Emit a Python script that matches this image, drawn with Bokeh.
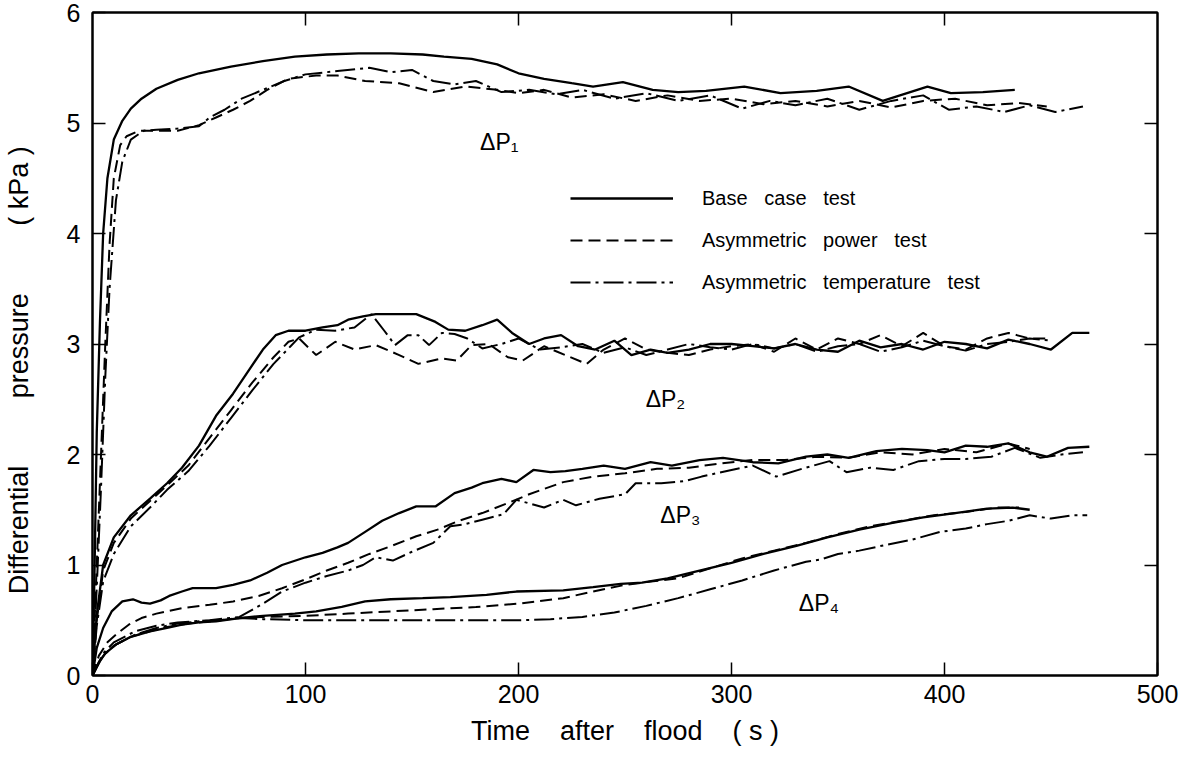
from bokeh.plotting import figure
from bokeh.models import (LinearAxis, FixedTicker, Legend, LegendItem, Label)
from bokeh.embed import file_html
from bokeh.resources import INLINE

# ---------------- data (time s, differential pressure kPa) ----------------
# dP1
p1_base_t = [0, 1, 2, 3.5, 5, 7, 10, 14, 18, 23, 30, 40, 50, 65, 80, 95, 110, 125, 140, 155, 165, 178,
             190, 200, 212, 225, 235, 249, 263, 275, 288, 306, 323, 340, 355, 371, 392, 403, 418, 433]
p1_base_v = [0, 1.0, 2.2, 3.2, 4.0, 4.5, 4.85, 5.02, 5.13, 5.22, 5.31, 5.39, 5.45, 5.51, 5.56, 5.6, 5.62,
             5.63, 5.63, 5.62, 5.6, 5.58, 5.53, 5.45, 5.4, 5.36, 5.33, 5.37, 5.3, 5.28, 5.29, 5.33, 5.27,
             5.29, 5.33, 5.2, 5.33, 5.27, 5.28, 5.3]
p1_pow_t = [0, 2, 4, 6, 8, 10, 13, 16, 22, 30, 40, 50, 58, 66, 74, 82, 92, 105, 115, 128, 144, 160, 175,
            190, 200, 212, 225, 240, 255, 270, 285, 300, 315, 330, 345, 360, 375, 390, 405, 420, 435, 448]
p1_pow_v = [0, 1.0, 2.0, 3.0, 3.9, 4.5, 4.8, 4.88, 4.93, 4.93, 4.93, 4.98, 5.05, 5.12, 5.2, 5.3, 5.4,
            5.43, 5.43, 5.38, 5.36, 5.28, 5.33, 5.3, 5.27, 5.3, 5.23, 5.26, 5.2, 5.25, 5.2, 5.22, 5.17,
            5.2, 5.15, 5.2, 5.14, 5.2, 5.22, 5.16, 5.18, 5.15]
p1_tmp_t = [0, 2, 4, 6, 8, 11, 14, 18, 24, 30, 40, 50, 55, 62, 70, 80, 90, 100, 115, 130, 140, 150, 160,
            170, 180, 192, 205, 218, 230, 245, 260, 275, 290, 305, 318, 330, 345, 360, 375, 390, 402,
            415, 428, 440, 452, 465]
p1_tmp_v = [0, 0.8, 1.7, 2.7, 3.5, 4.3, 4.65, 4.85, 4.93, 4.94, 4.95, 4.97, 5.05, 5.12, 5.22, 5.3, 5.38,
            5.44, 5.47, 5.5, 5.46, 5.48, 5.38, 5.35, 5.38, 5.28, 5.3, 5.26, 5.3, 5.22, 5.27, 5.2, 5.25,
            5.13, 5.2, 5.16, 5.22, 5.12, 5.2, 5.25, 5.12, 5.15, 5.1, 5.16, 5.1, 5.15]

# dP2
p2_base_t = [0, 2, 5, 10, 18, 27, 35, 42, 50, 58, 66, 74, 80, 86, 92, 100, 108, 115, 120, 127, 133, 145,
             152, 161, 167, 175, 183, 190, 197, 205, 212, 220, 228, 236, 245, 253, 262, 270, 280, 290,
             300, 310, 320, 330, 340, 350, 360, 370, 380, 390, 400, 410, 420, 430, 440, 450, 460, 468]
p2_base_v = [0, 0.55, 1.0, 1.25, 1.45, 1.6, 1.74, 1.88, 2.08, 2.35, 2.55, 2.78, 2.95, 3.08, 3.12, 3.12,
             3.15, 3.17, 3.22, 3.25, 3.27, 3.27, 3.27, 3.2, 3.13, 3.12, 3.17, 3.22, 3.1, 3.0, 3.05, 3.08,
             2.98, 2.95, 3.03, 2.9, 2.95, 2.92, 2.95, 3.0, 3.0, 2.98, 2.96, 3.0, 2.95, 2.93, 3.03, 2.97,
             3.0, 2.95, 3.02, 3.0, 2.96, 3.04, 3.0, 2.95, 3.1, 3.1]
p2_pow_t = [0, 2, 5, 10, 18, 27, 35, 45, 55, 65, 75, 85, 92, 97, 105, 114, 123, 133, 144, 153, 164, 171,
            178, 186, 195, 202, 212, 222, 232, 240, 250, 260, 270, 280, 290, 300, 310, 320, 330, 340,
            350, 360, 370, 380, 390, 400, 410, 420, 430, 440, 450]
p2_pow_v = [0, 0.5, 0.95, 1.2, 1.42, 1.58, 1.72, 1.9, 2.15, 2.4, 2.65, 2.88, 3.02, 3.05, 2.9, 3.02, 2.95,
            2.99, 2.9, 2.82, 2.87, 2.85, 2.99, 3.0, 2.88, 2.85, 2.98, 2.9, 2.82, 2.95, 3.05, 2.95, 2.92,
            2.9, 2.95, 2.98, 3.0, 2.93, 3.05, 2.95, 3.05, 3.0, 3.08, 2.98, 3.1, 2.98, 2.95, 3.05, 3.1,
            3.05, 3.05]
p2_tmp_t = [0, 2, 5, 10, 18, 27, 35, 45, 55, 65, 75, 85, 93, 97, 105, 114, 123, 131, 137, 142, 148, 153,
            158, 164, 170, 176, 183, 192, 200, 210, 220, 230, 240, 250, 260, 270, 280, 290, 300, 310,
            320, 330, 340, 350, 360, 370, 380, 390, 400, 410, 420, 430, 440, 450]
p2_tmp_v = [0, 0.45, 0.85, 1.1, 1.35, 1.52, 1.68, 1.85, 2.08, 2.33, 2.58, 2.82, 2.98, 3.06, 3.13, 3.12,
            3.15, 3.27, 3.12, 2.99, 3.08, 3.08, 2.99, 3.1, 3.09, 3.05, 2.96, 3.0, 3.05, 2.95, 2.97, 3.0,
            2.92, 2.97, 2.9, 2.95, 3.0, 2.97, 2.95, 3.0, 2.96, 3.0, 2.93, 2.98, 3.0, 2.93, 2.97, 3.03,
            2.98, 2.94, 3.0, 3.02, 3.05, 3.03]

# dP3
p3_base_t = [0, 2, 5, 9, 14, 19, 23, 27, 32, 36, 42, 47, 58, 66, 74, 82, 89, 100, 108, 115, 120, 128,
             136, 144, 152, 161, 170, 178, 183, 192, 199, 207, 215, 222, 230, 240, 250, 262, 272, 285,
             296, 310, 322, 335, 345, 355, 368, 380, 392, 400, 410, 420, 430, 440, 448, 458, 468]
p3_base_v = [0, 0.25, 0.43, 0.58, 0.67, 0.69, 0.66, 0.65, 0.68, 0.72, 0.76, 0.79, 0.79, 0.82, 0.86, 0.93,
             1.0, 1.07, 1.11, 1.16, 1.2, 1.3, 1.4, 1.47, 1.53, 1.53, 1.65, 1.7, 1.74, 1.78, 1.75, 1.86,
             1.84, 1.85, 1.87, 1.9, 1.87, 1.93, 1.9, 1.95, 1.97, 1.93, 1.92, 1.98, 2.0, 1.97, 2.03, 2.05,
             2.04, 2.02, 2.08, 2.07, 2.1, 2.02, 1.98, 2.06, 2.07]
p3_pow_t = [0, 3, 7, 11, 17, 23, 30, 42, 55, 66, 78, 89, 100, 110, 120, 130, 140, 152, 162, 172, 183, 195,
            205, 221, 235, 250, 265, 280, 295, 310, 325, 340, 355, 370, 385, 400, 415, 430, 440]
p3_pow_v = [0, 0.18, 0.3, 0.37, 0.46, 0.52, 0.56, 0.61, 0.64, 0.67, 0.72, 0.79, 0.87, 0.95, 1.02, 1.1,
            1.17, 1.26, 1.32, 1.4, 1.47, 1.56, 1.64, 1.75, 1.8, 1.83, 1.87, 1.88, 1.92, 1.95, 1.95, 1.98,
            1.97, 2.02, 2.0, 2.05, 2.02, 2.1, 2.05]
p3_tmp_t = [0, 5, 10, 20, 30, 40, 55, 69, 80, 89, 100, 110, 120, 127, 133, 141, 150, 160, 168, 175, 183,
            193, 199, 212, 221, 227, 238, 250, 255, 267, 278, 286, 300, 310, 321, 333, 346, 354, 365,
            376, 388, 400, 410, 422, 433, 445, 455, 465]
p3_tmp_v = [0, 0.2, 0.3, 0.4, 0.45, 0.48, 0.5, 0.53, 0.65, 0.76, 0.84, 0.9, 0.95, 1.0, 1.07, 1.04, 1.12,
            1.2, 1.35, 1.37, 1.41, 1.46, 1.59, 1.52, 1.59, 1.54, 1.6, 1.64, 1.74, 1.74, 1.76, 1.8, 1.86,
            1.9, 1.8, 1.87, 1.94, 1.84, 1.88, 1.86, 1.94, 1.96, 1.96, 1.98, 2.06, 1.97, 2.0, 2.02]

# dP4
p4_base_t = [0, 3, 6, 11, 18, 27, 35, 42, 50, 58, 69, 80, 95, 105, 117, 128, 140, 155, 168, 185, 199, 221,
             235, 248, 258, 270, 285, 300, 315, 330, 345, 360, 375, 390, 405, 420, 432, 440]
p4_base_v = [0, 0.12, 0.2, 0.28, 0.35, 0.4, 0.43, 0.46, 0.48, 0.49, 0.52, 0.54, 0.56, 0.58, 0.62, 0.67,
             0.69, 0.7, 0.71, 0.73, 0.76, 0.77, 0.8, 0.83, 0.84, 0.88, 0.95, 1.02, 1.1, 1.17, 1.25, 1.32,
             1.38, 1.43, 1.47, 1.51, 1.52, 1.5]
p4_pow_t = [0, 3, 6, 11, 18, 27, 35, 45, 55, 69, 80, 100, 120, 140, 160, 180, 200, 221, 235, 250, 262,
            275, 290, 305, 320, 335, 350, 365, 380, 395, 410, 425, 435]
p4_pow_v = [0, 0.12, 0.2, 0.28, 0.35, 0.4, 0.44, 0.47, 0.49, 0.52, 0.53, 0.54, 0.56, 0.58, 0.6, 0.62,
            0.65, 0.7, 0.76, 0.82, 0.85, 0.88, 0.97, 1.06, 1.13, 1.2, 1.28, 1.35, 1.4, 1.45, 1.48, 1.52,
            1.52]
p4_tmp_t = [0, 5, 10, 20, 30, 40, 50, 60, 69, 80, 100, 120, 140, 160, 180, 200, 215, 230, 245, 260, 275,
            290, 305, 320, 335, 342, 350, 360, 372, 385, 398, 410, 420, 430, 440, 450, 460, 467]
p4_tmp_v = [0, 0.18, 0.27, 0.37, 0.43, 0.47, 0.49, 0.5, 0.52, 0.51, 0.5, 0.5, 0.5, 0.5, 0.5, 0.5, 0.51,
            0.53, 0.57, 0.63, 0.7, 0.78, 0.86, 0.95, 1.03, 1.05, 1.1, 1.13, 1.18, 1.23, 1.3, 1.33, 1.37,
            1.4, 1.45, 1.42, 1.45, 1.45]

curve_labels = ["\u0394P\u2081", "\u0394P\u2082", "\u0394P\u2083", "\u0394P\u2084"]
curve_label_t = [191, 269, 276, 341]
curve_label_v = [4.83, 2.5, 1.45, 0.66]

NB = "\u00a0"
legend_names = ["Base" + NB * 3 + "case" + NB * 3 + "test",
                "Asymmetric" + NB * 3 + "power" + NB * 3 + "test",
                "Asymmetric" + NB * 3 + "temperature" + NB * 3 + "test"]
x_title = "Time" + NB * 4 + "after" + NB * 4 + "flood" + NB * 4 + "(" + NB + "s" + NB + ")"
y_title = ("Differential" + NB * 9 + "pressure" + NB * 9 + "(" + NB + "kPa" + NB + ")" + NB * 7)

x_ticks = [0, 100, 200, 300, 400, 500]
y_ticks = [0, 1, 2, 3, 4, 5, 6]
top_ticks = [100, 200, 300, 400]
right_ticks = [1, 2, 3, 4, 5]

FONT = "Liberation Sans"

# ---------------- figure ----------------
p = figure(width=1182, height=748, x_range=(0, 500), y_range=(0, 6),
           output_backend="svg", toolbar_location=None,
           min_border_left=89, min_border_right=25, min_border_top=12, min_border_bottom=69)
p.grid.visible = False
p.outline_line_color = "black"
p.outline_line_width = 2
p.background_fill_color = "white"
p.border_fill_color = "white"

for ax, tks in ((p.xaxis[0], x_ticks), (p.yaxis[0], y_ticks)):
    ax.ticker = FixedTicker(ticks=tks)
    ax.major_tick_in = 13
    ax.major_tick_out = 0
    ax.minor_tick_line_color = None
    ax.axis_line_width = 2
    ax.major_tick_line_width = 1.5
    ax.major_label_text_font = FONT
    ax.major_label_text_font_size = "25px"
    ax.major_label_text_color = "black"
    ax.axis_label_text_font = FONT
    ax.axis_label_text_font_size = "27px"
    ax.axis_label_text_font_style = "normal"
    ax.axis_label_text_color = "black"
p.xaxis[0].major_label_standoff = 9
p.yaxis[0].major_label_standoff = 12
p.xaxis[0].axis_label = x_title
p.xaxis[0].axis_label_standoff = 10
p.yaxis[0].axis_label = y_title
p.yaxis[0].axis_label_standoff = 30

top_ax = LinearAxis(ticker=FixedTicker(ticks=top_ticks), major_tick_in=13, major_tick_out=0,
                    minor_tick_line_color=None, major_label_overrides={t: "" for t in top_ticks},
                    major_label_standoff=0, axis_line_width=2, major_tick_line_width=1.5)
right_ax = LinearAxis(ticker=FixedTicker(ticks=right_ticks), major_tick_in=13, major_tick_out=0,
                      minor_tick_line_color=None, major_label_overrides={t: "" for t in right_ticks},
                      major_label_standoff=0, axis_line_width=2, major_tick_line_width=1.5)
p.add_layout(top_ax, "above")
p.add_layout(right_ax, "right")

SOLID = dict(line_color="black", line_width=2.3)
DASH = dict(line_color="black", line_width=2.0, line_dash="12 6")
DASHDOT = dict(line_color="black", line_width=2.0, line_dash="20 5 3 5")

r_base = p.line(p1_base_t, p1_base_v, **SOLID)
r_pow = p.line(p1_pow_t, p1_pow_v, **DASH)
r_tmp = p.line(p1_tmp_t, p1_tmp_v, **DASHDOT)
for t, v in ((p2_base_t, p2_base_v), (p3_base_t, p3_base_v), (p4_base_t, p4_base_v)):
    p.line(t, v, **SOLID)
for t, v in ((p2_pow_t, p2_pow_v), (p3_pow_t, p3_pow_v), (p4_pow_t, p4_pow_v)):
    p.line(t, v, **DASH)
for t, v in ((p2_tmp_t, p2_tmp_v), (p3_tmp_t, p3_tmp_v), (p4_tmp_t, p4_tmp_v)):
    p.line(t, v, **DASHDOT)

for txt, t, v in zip(curve_labels, curve_label_t, curve_label_v):
    p.add_layout(Label(x=t, y=v, text=txt, text_font=FONT, text_font_size="23px",
                       text_align="center", text_baseline="middle", text_color="black"))

legend = Legend(items=[LegendItem(label=legend_names[0], renderers=[r_base]),
                       LegendItem(label=legend_names[1], renderers=[r_pow]),
                       LegendItem(label=legend_names[2], renderers=[r_tmp])],
                location=(478, 378), orientation="vertical",
                glyph_width=103, glyph_height=30, label_height=30, spacing=12,
                label_standoff=29, padding=0, margin=0,
                label_text_font=FONT, label_text_font_size="20px", label_text_color="black",
                border_line_alpha=0, background_fill_alpha=0)
p.add_layout(legend)

open("out.html", "w").write(file_html(p, INLINE))
